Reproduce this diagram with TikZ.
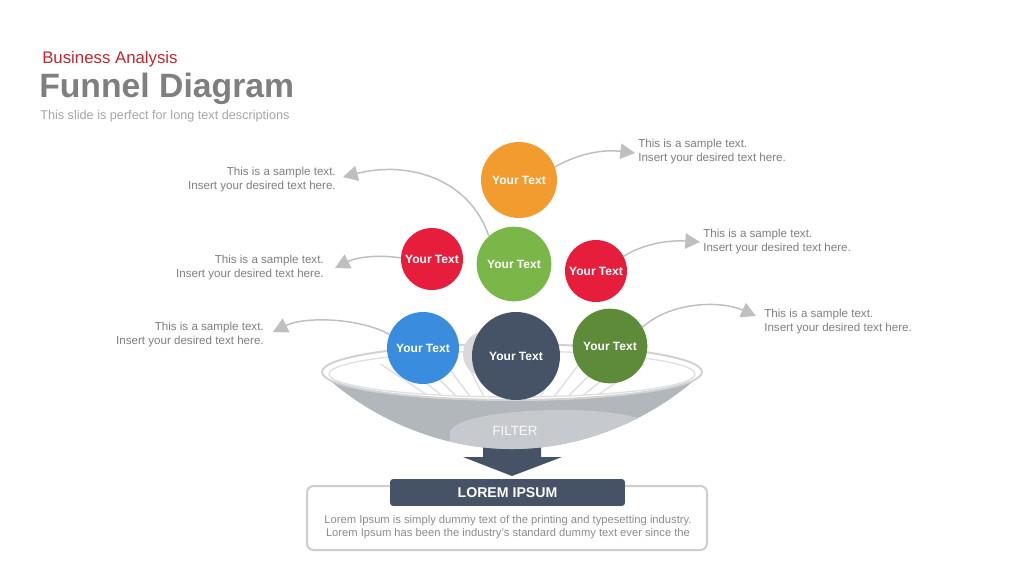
\documentclass[tikz,border=0pt]{standalone}
\usepackage{fontspec}
\setmainfont{Liberation Sans}
\usetikzlibrary{arrows.meta}
\definecolor{cOrange}{HTML}{F29B2F}
\definecolor{cRed}{HTML}{E61E3C}
\definecolor{cGreen}{HTML}{7AB648}
\definecolor{cBlue}{HTML}{3A8DDE}
\definecolor{cDark}{HTML}{465366}
\definecolor{cDGreen}{HTML}{5E8B3A}
\definecolor{cArrow}{HTML}{BFBFBF}
\definecolor{cText}{HTML}{7F7F7F}
\definecolor{cRedTitle}{HTML}{C1272D}
\definecolor{cSub}{HTML}{A6A6A6}
\definecolor{cBody}{HTML}{B2B7BC}
\definecolor{cHigh}{HTML}{C6CACE}
\definecolor{cRim}{HTML}{D2D2D2}
\definecolor{cRay}{HTML}{E0E0E0}
\definecolor{cBall}{HTML}{D9D9D9}
\definecolor{cBox}{HTML}{CDCDCD}
\definecolor{cLorem}{HTML}{8C8C8C}
\begin{document}
\begin{tikzpicture}[x=0.75pt,y=-0.75pt,
  ball/.style={circle, fill=#1, draw=none, text=white, font=\bfseries\fontsize{9}{10}\selectfont, inner sep=0pt},
  side/.style={text=cText, font=\fontsize{8.7}{10.5}\selectfont, inner sep=0pt},
  conn/.style={draw=cArrow, line width=1.1pt, -{Triangle[length=11pt,width=11.5pt]}},
  ray/.style={draw=cRay, line width=1.1pt}
]
\useasboundingbox (0,0) rectangle (1024,576);
\fill[white] (0,0) rectangle (1024,576);

% titles
\node[anchor=base west, inner sep=0pt, text=cRedTitle, font=\fontsize{12.6}{14}\selectfont] (kicker) at (42,63) {Business Analysis};
\node[anchor=base west, inner sep=0pt, text=cText, font=\bfseries\fontsize{25.3}{28}\selectfont] (title) at (39,97) {Funnel Diagram};
\node[anchor=base west, inner sep=0pt, text=cSub, font=\fontsize{9.5}{11}\selectfont] (subtitle) at (40,119) {This slide is perfect for long text descriptions};

% funnel arrow
\fill[cDark] (483,440) -- (541,440) -- (541,457) -- (562,457) -- (512,476) -- (463,457) -- (483,457) -- cycle;

% funnel body
\fill[cBody] (322,373) .. controls (360,410) and (430,449) .. (512,449) .. controls (594,449) and (664,410) .. (702,373) -- cycle;
\begin{scope}
\clip (322,373) .. controls (360,410) and (430,449) .. (512,449) .. controls (594,449) and (664,410) .. (702,373) -- cycle;
\fill[cHigh] (450,436) .. controls (444,420) and (500,410) .. (560,410) .. controls (610,410) and (640,416) .. (650,424) .. controls (640,440) and (600,452) .. (560,452) -- (450,452) -- cycle;
\end{scope}
\node[inner sep=0pt, text=white!92!cBody, font=\fontsize{10}{12}\selectfont] (filter) at (515,431) {FILTER};

% funnel top
\filldraw[fill=white, draw=cRim, line width=1.5pt] (512,372) ellipse [x radius=190, y radius=28];
\draw[draw=cRay, line width=1pt] (512,374) ellipse [x radius=183, y radius=23];
\begin{scope}
\clip (512,374) ellipse [x radius=183, y radius=23];
\clip (300,364) rectangle (720,410);
\foreach \tx in {330,360,390,420,450,480,545,575,605,635,665,695} {
  \draw[ray] (512,452) -- (\tx,330);
}
\end{scope}

% grey ball behind
\fill[cBall] (486,354) circle [radius=23];

% circles
\node[ball=cOrange, minimum size=57pt] (orange) at (519,180) {Your Text};
\node[ball=cRed, minimum size=46.5pt] (redL) at (432,259) {Your Text};
\node[ball=cGreen, minimum size=56pt] (green) at (514,264) {Your Text};
\node[ball=cRed, minimum size=46.5pt] (redR) at (596,271) {Your Text};
\node[ball=cBlue, minimum size=54pt] (blue) at (423,348) {Your Text};
\node[ball=cDark, minimum size=66pt] (dark) at (516,356) {Your Text};
\node[ball=cDGreen, minimum size=56pt] (dgreen) at (610,346) {Your Text};

% side texts
\node[side, anchor=west, align=left] (tr) at (638,151.5) {This is a sample text.\\Insert your desired text here.};
\node[side, anchor=east, align=right] (tl) at (336,179) {This is a sample text.\\Insert your desired text here.};
\node[side, anchor=west, align=left] (mr) at (703,241.5) {This is a sample text.\\Insert your desired text here.};
\node[side, anchor=east, align=right] (ml) at (324,267.5) {This is a sample text.\\Insert your desired text here.};
\node[side, anchor=east, align=right] (bl) at (264,334.5) {This is a sample text.\\Insert your desired text here.};
\node[side, anchor=west, align=left] (br) at (764,321) {This is a sample text.\\Insert your desired text here.};

% arrow tips
\coordinate (tipTR) at (635,153);
\coordinate (tipTL) at (343,177);
\coordinate (tipMR) at (700,242);
\coordinate (tipML) at (335,268);
\coordinate (tipBL) at (273,332);
\coordinate (tipBR) at (756,316);

% connectors
\draw[conn] (orange.20) .. controls (585,150) and (610,150) .. (tipTR);
\draw[conn] (green.132) .. controls (470,180) and (410,160) .. (tipTL);
\draw[conn] (redR.28) .. controls (645,243) and (670,240) .. (tipMR);
\draw[conn] (redL.178) .. controls (375,254) and (355,258) .. (tipML);
\draw[conn] (blue.158) .. controls (360,318) and (305,316) .. (tipBL);
\draw[conn] (dgreen.30) .. controls (670,302) and (720,300) .. (tipBR);

% bottom box
\draw[draw=cBox, line width=1.5pt, fill=white, rounded corners=5pt] (307,486) rectangle (707,550);
\node[fill=cDark, rounded corners=2pt, minimum width=176pt, minimum height=20pt, inner sep=0pt, text=white, font=\bfseries\fontsize{10.6}{12}\selectfont] (lorem) at (507.5,492.5) {LOREM IPSUM};
\node[text=cLorem, inner sep=0pt, align=center, font=\fontsize{8.4}{9.9}\selectfont] (loremtext) at (508,527) {Lorem Ipsum is simply dummy text of the printing and typesetting industry.\\Lorem Ipsum has been the industry's standard dummy text ever since the};
\end{tikzpicture}
\end{document}
